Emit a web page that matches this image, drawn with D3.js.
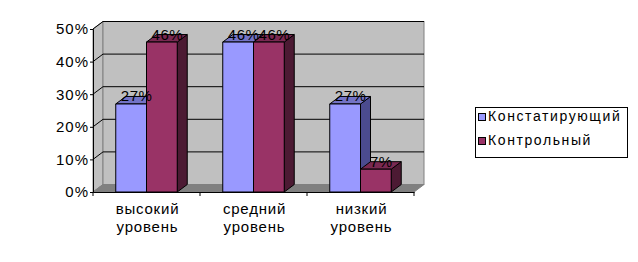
<!DOCTYPE html>
<html><head><meta charset="utf-8">
<script src="https://cdn.jsdelivr.net/npm/d3@7"></script>
<style>body{margin:0;background:#fff}svg{display:block}</style>
</head><body>
<svg id="c" width="638" height="262"></svg>
<script>
const categories = ["высокий уровень", "средний уровень", "низкий уровень"];
const seriesNames = ["Констатирующий", "Контрольный"];
const valuesKonst = [27, 46, 27];
const valuesKontr = [46, 46, 7];
const yTicks = [0, 10, 20, 30, 40, 50];

const colors = [
  {front:"#9999FF", top:"#7373C6", side:"#4B4B8F"},
  {front:"#993366", top:"#7A2952", side:"#4C1A33"}
];
const series = [valuesKonst, valuesKontr];
const svg = d3.select("#c");
const font = "'Liberation Sans', Arial, sans-serif";
const dx = 10, dy = -7.5;
const x0 = d3.scaleBand().domain(categories).range([93, 414]).paddingInner(0);
const x1 = d3.scaleBand().domain(seriesNames).range([0, x0.bandwidth()]).paddingInner(0).paddingOuter(0.74);
const y = d3.scaleLinear().domain([0, 50]).range([192, 29]);
const L = 93, R = 414, B = y(0), T = y(50);

// side wall (left)
svg.append("path").attr("d", `M${L},${B}L${L+dx},${B+dy}L${L+dx},${T+dy}L${L},${T}Z`)
  .attr("fill", "#C0C0C0").attr("stroke", "#808080");
// back wall
svg.append("rect").attr("x", L+dx).attr("y", T+dy).attr("width", R-L).attr("height", B-T)
  .attr("fill", "#C0C0C0").attr("stroke", "#808080");
// floor
svg.append("path").attr("d", `M${L},${B}L${L+dx},${B+dy}L${R+dx},${B+dy}L${R},${B}Z`)
  .attr("fill", "#808080").attr("stroke", "#808080");
// gridlines
yTicks.filter(t => t > 0).forEach(t => {
  const yy = y(t);
  svg.append("path").attr("d", `M${L},${yy}L${L+dx},${yy+dy}L${R+dx},${yy+dy}`)
    .attr("fill", "none").attr("stroke", "#000").attr("stroke-width", 1);
});
// y axis
const yAxis = d3.axisLeft(y).tickValues(yTicks).tickFormat(d => d + "%").tickSize(3).tickPadding(2);
const ga = svg.append("g").attr("transform", `translate(${L},0)`).call(yAxis);
ga.select(".domain").attr("stroke", "#000");
ga.selectAll("text").attr("font-family", font).attr("font-size", 15).attr("fill", "#000")
  .attr("letter-spacing", 1).attr("dx", 1);

// bars
categories.forEach((c, ci) => {
  seriesNames.forEach((s, si) => {
    const v = series[si][ci];
    const xl = x0(c) + x1(s), w = x1.bandwidth(), yt = y(v);
    const col = colors[si];
    const g = svg.append("g").attr("stroke", "#000").attr("stroke-width", 1).attr("stroke-linejoin", "round");
    g.append("path").attr("d", `M${xl+w},${B}L${xl+w+dx},${B+dy}L${xl+w+dx},${yt+dy}L${xl+w},${yt}Z`).attr("fill", col.side);
    g.append("path").attr("d", `M${xl},${yt}L${xl+dx},${yt+dy}L${xl+w+dx},${yt+dy}L${xl+w},${yt}Z`).attr("fill", col.top);
    g.append("rect").attr("x", xl).attr("y", yt).attr("width", w).attr("height", B - yt).attr("fill", col.front);
  });
});
// x axis
const xAxis = d3.axisBottom(x0).tickSize(0).tickFormat("");
const gx = svg.append("g").attr("transform", `translate(0,${B})`).call(xAxis);
gx.select(".domain").attr("stroke", "#000");
[L, ...categories.map(c => x0(c) + x0.bandwidth())].forEach(xx => {
  svg.append("line").attr("x1", xx).attr("x2", xx).attr("y1", B).attr("y2", B + 4).attr("stroke", "#000");
});
categories.forEach(c => {
  const parts = c.split(" ");
  const cx = x0(c) + x0.bandwidth()/2 + 1;
  const t = svg.append("text").attr("x", cx).attr("y", 214)
    .attr("text-anchor", "middle").attr("font-family", font).attr("font-size", 15).attr("letter-spacing", 0.8);
  parts.forEach((p, i) => t.append("tspan").attr("x", cx).attr("dy", i ? 18 : 0).text(p));
});
// data labels
categories.forEach((c, ci) => {
  seriesNames.forEach((s, si) => {
    const v = series[si][ci];
    svg.append("text").attr("x", x0(c) + x1(s) + x1.bandwidth()/2 + dx/2 + 0.5).attr("y", y(v) + dy + 5)
      .attr("text-anchor", "middle").attr("font-family", font).attr("font-size", 15)
      .attr("letter-spacing", 0.5).text(v + "%");
  });
});
// legend
const lg = svg.append("g");
lg.append("rect").attr("x", 475.5).attr("y", 107.5).attr("width", 152).attr("height", 50)
  .attr("fill", "#fff").attr("stroke", "#000");
seriesNames.forEach((s, i) => {
  const yy = 113 + i * 24;
  lg.append("rect").attr("x", 478.5).attr("y", yy + 0.5).attr("width", 7).attr("height", 7)
    .attr("fill", colors[i].front).attr("stroke", "#000");
  lg.append("text").attr("x", 488).attr("y", yy + 8).attr("font-family", font).attr("font-size", 14)
    .attr("letter-spacing", 1.6).text(s);
});
</script>
</body></html>
